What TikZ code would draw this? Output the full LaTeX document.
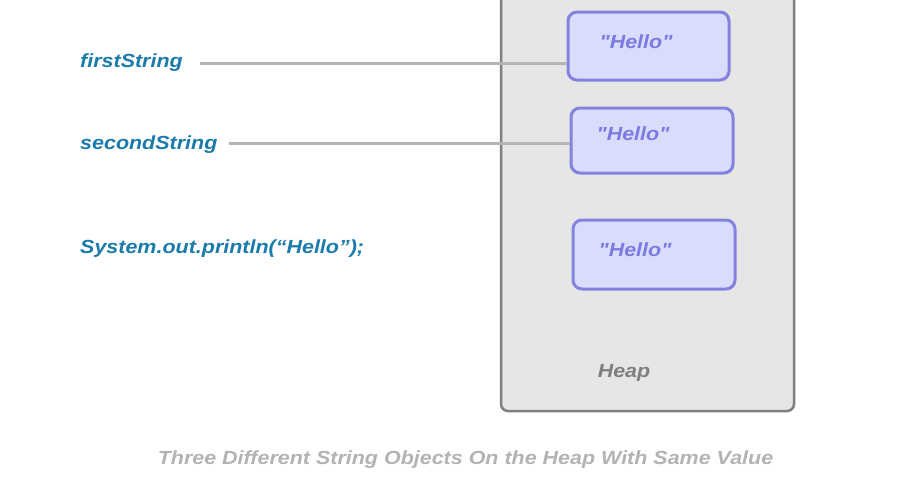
\documentclass[tikz,border=0pt]{standalone}
\usepackage{fontspec}
\setmainfont{Liberation Sans}[Ligatures=TeXOff]
\definecolor{labelblue}{HTML}{1B7BAA}
\definecolor{heapfill}{HTML}{E6E6E6}
\definecolor{heapdraw}{HTML}{7F7F7F}
\definecolor{objfill}{HTML}{D9DCFB}
\definecolor{objdraw}{HTML}{8383DF}
\definecolor{objtext}{HTML}{7B7BE0}
\definecolor{connline}{HTML}{B5B5B5}
\definecolor{captgray}{HTML}{B3B3B3}
\newcommand{\hs}[1]{\scalebox{1.13}[1]{#1}}
\tikzset{
  heapbox/.style={draw=heapdraw, fill=heapfill, line width=2.5pt, rounded corners=7pt, inner sep=0pt},
  objbox/.style={draw=objdraw, fill=objfill, line width=3pt, rounded corners=9pt, inner sep=0pt},
  vartext/.style={text=labelblue, font=\fontsize{19}{21}\selectfont\bfseries\itshape, anchor=west, inner sep=0pt},
  objtxt/.style={text=objtext, font=\fontsize{19}{21}\selectfont\bfseries\itshape, inner sep=0pt},
  heaptxt/.style={text=heapdraw, font=\fontsize{19}{21}\selectfont\bfseries\itshape, inner sep=0pt},
  capttxt/.style={text=captgray, font=\fontsize{19}{21}\selectfont\bfseries\itshape, inner sep=0pt},
  conn/.style={draw=connline, line width=3pt}
}
\begin{document}
\begin{tikzpicture}[x=1pt,y=-1pt]
\useasboundingbox (0,0) rectangle (910,477);
\clip (0,0) rectangle (910,477);
\fill[white] (0,0) rectangle (910,477);
\node[heapbox, minimum width=293pt, minimum height=441pt] (heap) at (647.5,190.5) {};
\node[objbox, minimum width=161pt, minimum height=68pt] (b1) at (648.5,46) {};
\node[objbox, minimum width=162pt, minimum height=65pt] (b2) at (652,140.5) {};
\node[objbox, minimum width=162pt, minimum height=69pt] (b3) at (654,254.5) {};
\node[objtxt] (t1) at (636,41.5) {\hs{"Hello"}};
\node[objtxt] (t2) at (633,133.5) {\hs{"Hello"}};
\node[objtxt] (t3) at (635,249.5) {\hs{"Hello"}};
\node[heaptxt] (heaplabel) at (624,372.5) {\hs{Heap}};
\node[vartext] (fs) at (80,62.5) {\hs{firstString}};
\node[vartext] (ss) at (80,144.5) {\hs{secondString}};
\node[vartext] (sp) at (80,248.5) {\hs{System.out.println(“Hello”);}};
\coordinate (fsl) at (200,63);
\coordinate (ssl) at (229,143);
\draw[conn] (fsl) -- (b1.west |- fsl);
\draw[conn] (ssl) -- (b2.west |- ssl);
\node[capttxt] (cap) at (465.5,459.5) {\hs{Three Different String Objects On the Heap With Same Value}};
\end{tikzpicture}
\end{document}
